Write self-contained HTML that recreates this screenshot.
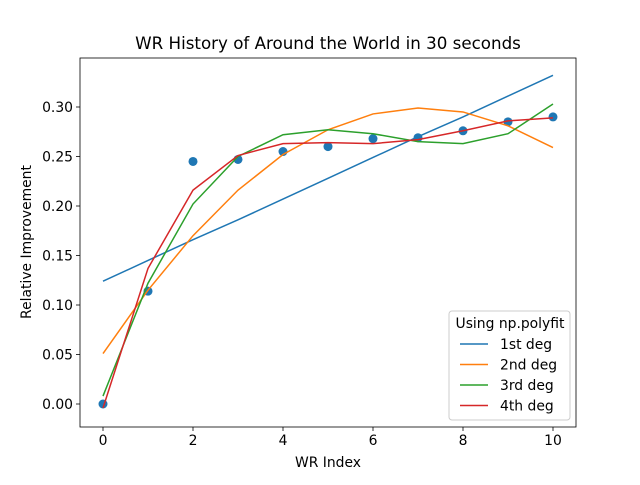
<!DOCTYPE html>
<html><head><meta charset="utf-8"><style>
body{margin:0;background:#fff;}
svg text{font-family:"DejaVu Sans","Liberation Sans",sans-serif;fill:#000;}
</style></head><body>
<svg id="chart" width="640" height="480" xmlns="http://www.w3.org/2000/svg">
<rect width="640" height="480" fill="#fff"/>
<g id="plot"></g>
</svg>
<script>
const xs=[0,1,2,3,4,5,6,7,8,9,10];
const points=[0,0.114,0.245,0.247,0.255,0.260,0.268,0.269,0.276,0.285,0.290];
const deg1=[0.124,0.145,0.166,0.186,0.207,0.228,0.249,0.270,0.290,0.311,0.332];
const deg2=[0.051,0.115,0.170,0.216,0.252,0.277,0.293,0.299,0.295,0.281,0.259];
const deg3=[0.008,0.122,0.202,0.250,0.272,0.277,0.273,0.265,0.263,0.273,0.303];
const deg4=[-0.004,0.137,0.216,0.251,0.263,0.264,0.263,0.267,0.276,0.286,0.289];
const xTicks=[0,2,4,6,8,10];
const yTicks=[0.00,0.05,0.10,0.15,0.20,0.25,0.30];
const seriesNames=["1st deg","2nd deg","3rd deg","4th deg"];
const colors=["#1f77b4","#ff7f0e","#2ca02c","#d62728"];
const L=80,R=576,T=58,B=427;
const X=v=>103+v*45;
const Y=v=>404-v*990;
const NS="http://www.w3.org/2000/svg";
const g=document.getElementById('plot');
function mk(t,a,p){const e=document.createElementNS(NS,t);for(const k in a)e.setAttribute(k,a[k]);(p||g).appendChild(e);return e;}
let t=mk('text',{x:328,y:49,'text-anchor':'middle','font-size':'16.7'});t.textContent="WR History of Around the World in 30 seconds";


xTicks.forEach(v=>{
 const l=mk('line',{x1:X(v),x2:X(v),y1:B,y2:B+4,stroke:'#000','stroke-width':0.8});
 
 
 const tx=mk('text',{x:X(v),y:B+18,'text-anchor':'middle','font-size':'13.9'});tx.textContent=v;
 
 
});
yTicks.forEach(v=>{
 const l=mk('line',{x1:L-4,x2:L,y1:Y(v),y2:Y(v),stroke:'#000','stroke-width':0.8});
 
 
 const tx=mk('text',{x:L-7,y:Y(v)+5,'text-anchor':'end','font-size':'13.9'});tx.textContent=v.toFixed(2);
 
 
});
let xl=mk('text',{x:328,y:467,'text-anchor':'middle','font-size':'13.9'});xl.textContent="WR Index";


let yl=mk('text',{x:0,y:0,'text-anchor':'middle','font-size':'13.9',transform:'translate(31,242) rotate(-90)'});yl.textContent="Relative Improvement";


points.forEach((v,i)=>{
 const c=mk('circle',{cx:X(xs[i]),cy:Y(v),r:4.5,fill:'#1f77b4'});
 
 
});
[deg1,deg2,deg3,deg4].forEach((s,k)=>{
 const p=mk('polyline',{points:s.map((v,i)=>X(xs[i])+','+Y(v)).join(' '),fill:'none',stroke:colors[k],'stroke-width':1.5});
 
 
});
const fr=mk('rect',{x:L,y:T,width:R-L,height:B-T,fill:'none',stroke:'#000','stroke-width':0.8});


const lg=mk('g',{});


mk('rect',{x:449,y:311,width:121,height:109,rx:3,fill:'#fff','fill-opacity':0.8,stroke:'#ccc'},lg);
const lt=mk('text',{x:510,y:328,'text-anchor':'middle','font-size':'13.9'},lg);lt.textContent="Using np.polyfit";
seriesNames.forEach((n,k)=>{
 const y=344+k*20.5;
 const e=mk('g',{},lg);
 
 
 mk('line',{x1:460,x2:488,y1:y,y2:y,stroke:colors[k],'stroke-width':1.5},e);
 const tx=mk('text',{x:500,y:y+5,'font-size':'13.9'},e);tx.textContent=n;
});
</script>
</body></html>
